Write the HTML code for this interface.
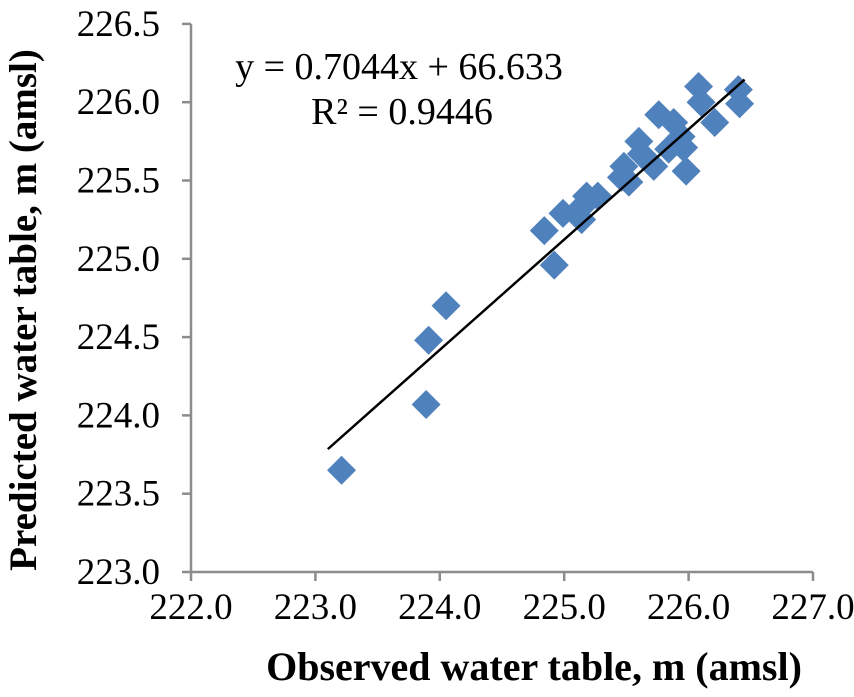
<!DOCTYPE html>
<html><head><meta charset="utf-8"><style>
html,body{margin:0;padding:0;background:#fff;}
svg text{font-family:"Liberation Serif",serif;fill:#000;}
</style></head><body>
<svg id="chart" width="854" height="692" viewBox="0 0 854 692">
<g id="axes"></g><g id="marks"></g>
<text x="399" y="79" font-size="38" text-anchor="middle">y = 0.7044x + 66.633</text>
<text x="402" y="124" font-size="38" text-anchor="middle">R² = 0.9446</text>
<text x="534" y="680" font-size="40" font-weight="bold" text-anchor="middle">Observed water table, m (amsl)</text>
<text transform="translate(36,310) rotate(-90)" font-size="39" font-weight="bold" text-anchor="middle">Predicted water table, m (amsl)</text>
</svg>
<script>
const xTicks=[222.0,223.0,224.0,225.0,226.0,227.0];
const yTicks=[223.0,223.5,224.0,224.5,225.0,225.5,226.0,226.5];
const obsX=[223.21,223.89,223.91,224.05,224.84,224.92,224.99,225.14,225.18,225.27,225.14,225.48,225.52,225.46,225.60,225.62,225.72,225.76,225.84,225.88,225.94,225.96,225.98,226.08,226.10,226.21,226.40,226.41];
const predY=[223.65,224.07,224.48,224.70,225.18,224.96,225.29,225.33,225.40,225.40,225.25,225.59,225.49,225.52,225.75,225.67,225.59,225.92,225.70,225.87,225.78,225.71,225.56,226.10,226.00,225.87,226.08,225.99];
const slope=0.7044, intercept=66.633, fitRange=[223.1,226.45];
const NS="http://www.w3.org/2000/svg";
const sx=v=>191+(v-222)*124.4;
const sy=v=>572-(v-223)*156.6;
function mk(t,a,p){const e=document.createElementNS(NS,t);for(const k in a)e.setAttribute(k,a[k]);p.appendChild(e);return e;}
const ax=document.getElementById('axes'), mg=document.getElementById('marks');
let e=mk('line',{x1:191,y1:sy(226.5),x2:191,y2:572,stroke:'#8c8c8c','stroke-width':2.5},ax);


e=mk('line',{x1:191,y1:572,x2:sx(227),y2:572,stroke:'#8c8c8c','stroke-width':2.5},ax);


xTicks.forEach(v=>{
 let t=mk('line',{x1:sx(v),y1:572,x2:sx(v),y2:581,stroke:'#8c8c8c','stroke-width':2.5},ax);
 
 
 let l=mk('text',{x:sx(v),y:619,'font-size':37,'text-anchor':'middle'},ax);
 l.textContent=v.toFixed(1);
 
 
});
yTicks.forEach(v=>{
 let t=mk('line',{x1:182,y1:sy(v),x2:191,y2:sy(v),stroke:'#8c8c8c','stroke-width':2.5},ax);
 
 
 let l=mk('text',{x:160,y:sy(v)+12,'font-size':37,'text-anchor':'end'},ax);
 l.textContent=v.toFixed(1);
 
 
});
obsX.forEach((x,i)=>{
 const cx=sx(x), cy=sy(predY[i]), r=14.5;
 let p=mk('polygon',{points:`${cx},${cy-r} ${cx+r},${cy} ${cx},${cy+r} ${cx-r},${cy}`,fill:'#4f81bd'},mg);
 
 
});
e=mk('line',{x1:sx(fitRange[0]),y1:sy(slope*fitRange[0]+intercept),x2:sx(fitRange[1]),y2:sy(slope*fitRange[1]+intercept),stroke:'#000','stroke-width':2.5},mg);


</script>
</body></html>
